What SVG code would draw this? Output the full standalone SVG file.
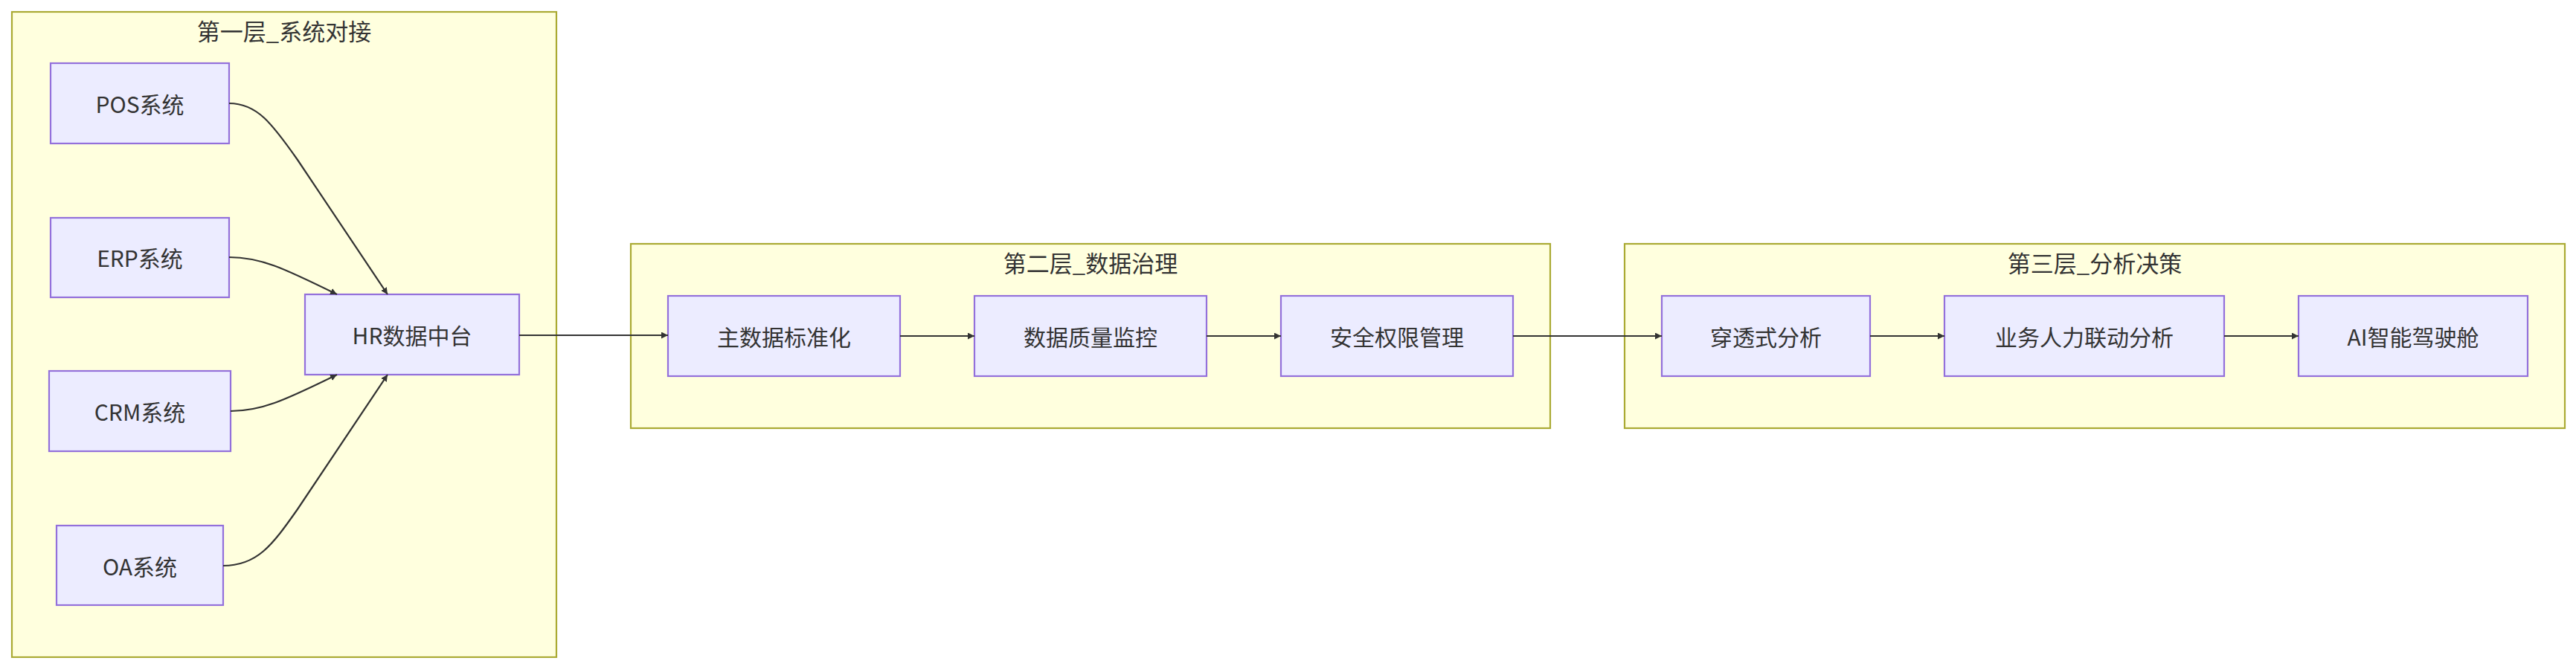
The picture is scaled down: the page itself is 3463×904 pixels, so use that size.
<svg xmlns="http://www.w3.org/2000/svg" width="3463" height="904" viewBox="0 0 3463 904">
<style>
.cl{fill:#ffffde;stroke:#aaaa33;stroke-width:2.2}
.nd{fill:#ececff;stroke:#9370db;stroke-width:2.2}
text{font-family:"Noto Sans CJK SC","Noto Sans",sans-serif;fill:#333;text-anchor:middle;dominant-baseline:central;font-size:30px}
.ct{font-size:31px}
.ed{fill:none;stroke:#333;stroke-width:2.2;marker-end:url(#ar)}
</style>
<defs><marker id="ar" viewBox="0 0 10 10" refX="10" refY="5" markerWidth="9" markerHeight="9" markerUnits="userSpaceOnUse" orient="auto"><path d="M0,0L10,5L0,10z" fill="#333"/></marker></defs>
<rect width="3463" height="904" fill="#fff"/>
<g id="layer1"><rect class="cl" x="16" y="16" width="732" height="868"/><text class="ct" x="382" y="40">第一层_系统对接</text></g>
<g id="layer2"><rect class="cl" x="848" y="328" width="1236" height="248"/><text class="ct" x="1466" y="352">第二层_数据治理</text></g>
<g id="layer3"><rect class="cl" x="2184" y="328" width="1264" height="248"/><text class="ct" x="2816" y="352">第三层_分析决策</text></g>
<g id="pos"><rect class="nd" x="68" y="85" width="240" height="108"/><text x="188" y="139">POS系统</text></g>
<g id="erp"><rect class="nd" x="68" y="293" width="240" height="107"/><text x="188" y="346">ERP系统</text></g>
<g id="crm"><rect class="nd" x="66" y="499" width="244" height="108"/><text x="188" y="553">CRM系统</text></g>
<g id="oa"><rect class="nd" x="76" y="707" width="224" height="107"/><text x="188" y="761">OA系统</text></g>
<g id="hr"><rect class="nd" x="410" y="396" width="288" height="108"/><text x="554" y="450">HR数据中台</text></g>
<g id="n21"><rect class="nd" x="898" y="398" width="312" height="108"/><text x="1054" y="452">主数据标准化</text></g>
<g id="n22"><rect class="nd" x="1310" y="398" width="312" height="108"/><text x="1466" y="452">数据质量监控</text></g>
<g id="n23"><rect class="nd" x="1722" y="398" width="312" height="108"/><text x="1878" y="452">安全权限管理</text></g>
<g id="n31"><rect class="nd" x="2234" y="398" width="280" height="108"/><text x="2374" y="452">穿透式分析</text></g>
<g id="n32"><rect class="nd" x="2614" y="398" width="376" height="108"/><text x="2802" y="452">业务人力联动分析</text></g>
<g id="n33"><rect class="nd" x="3090" y="398" width="308" height="108"/><text x="3244" y="452">AI智能驾驶舱</text></g>
<g id="edges">
<path class="ed" d="M308,139 C345,139 365,165 400,215 L521,396"/>
<path class="ed" d="M308,346 C350,346 380,360 453,396"/>
<path class="ed" d="M310,553 C350,553 380,540 453,504"/>
<path class="ed" d="M300,761 C345,761 365,735 400,685 L521,504"/>
<path class="ed" d="M698,451 L898,451"/>
<path class="ed" d="M1210,452 L1310,452"/>
<path class="ed" d="M1622,452 L1722,452"/>
<path class="ed" d="M2034,452 L2234,452"/>
<path class="ed" d="M2514,452 L2614,452"/>
<path class="ed" d="M2990,452 L3090,452"/>
</g>
</svg>
